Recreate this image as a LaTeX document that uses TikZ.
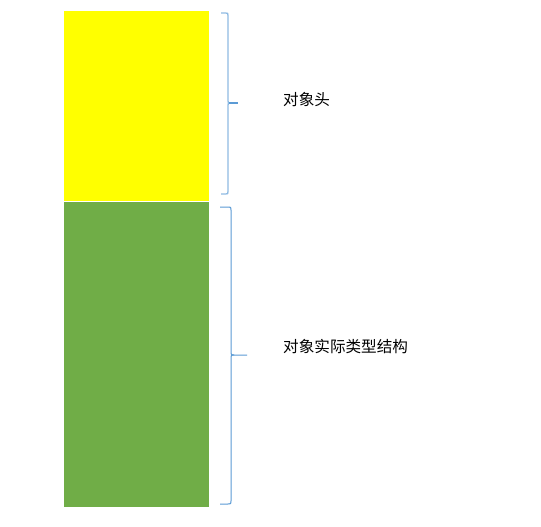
\documentclass[tikz,border=0pt]{standalone}
\usepackage{fontspec}
\newfontfamily\cjk{Noto Sans CJK SC}
\definecolor{hdryellow}{HTML}{FFFF00}
\definecolor{bodygreen}{HTML}{70AD47}
\definecolor{bracelight}{HTML}{8FBBE3}
\definecolor{bracedark}{HTML}{5B9BD5}
\tikzset{
  block/.style={draw=none, inner sep=0pt, outer sep=0pt, minimum width=145pt},
  bracepath/.style={line width=1.3pt, line join=round},
  lbl/.style={anchor=west, inner sep=0pt, font=\cjk\fontsize{15.6pt}{17pt}\selectfont}
}
\begin{document}
\begin{tikzpicture}[x=1pt,y=-1pt]
\useasboundingbox (0,0) rectangle (541,527);
\fill[white] (0,0) rectangle (541,527);
% blocks
\node[block, fill=hdryellow, minimum height=190pt, anchor=north west] (hdr) at (64,11) {};
\node[block, fill=bodygreen, minimum height=305pt, anchor=north west] (body) at (64,201.5) {};
% brace 1
\draw[bracepath, bracelight] (221,13) -- (225.5,13) .. controls (228,13) .. (228,16) -- (228,100.5)
  .. controls (228,103) .. (230.5,103);
\draw[bracepath, bracelight] (230.5,103) .. controls (228,103) .. (228,105.5) -- (228,191)
  .. controls (228,194) .. (225.5,194) -- (221,194);
\draw[line width=1.6pt, bracedark] (229,103) -- (238,103);
% brace 2
\draw[bracepath, bracedark, line width=1pt] (220,207) -- (228,207) .. controls (231,207) .. (231,210) -- (231,352)
  .. controls (231,355) .. (234,355) -- (247,355);
\draw[bracepath, bracedark, line width=1pt] (234,355) .. controls (231,355) .. (231,358) -- (231,501)
  .. controls (231,504) .. (228,504) -- (220,504);
% labels
\node[lbl] (t1) at (283,100) {对象头};
\node[lbl] (t2) at (283,347) {对象实际类型结构};
\end{tikzpicture}
\end{document}
